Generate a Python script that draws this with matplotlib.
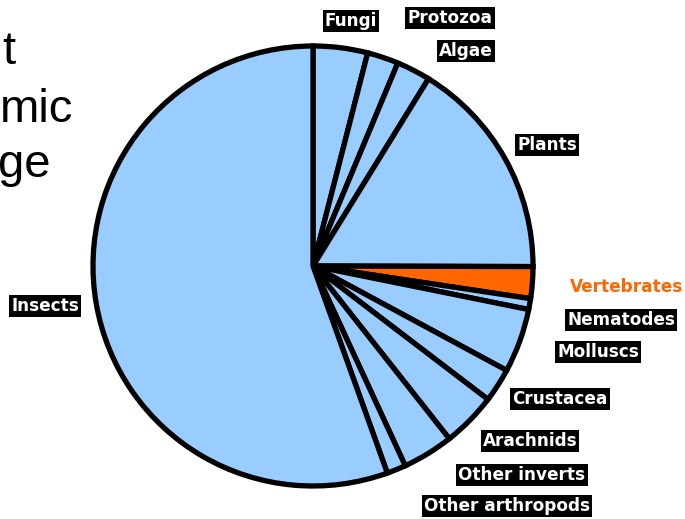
import matplotlib
matplotlib.use("Agg")
import matplotlib.pyplot as plt

# Share of described species by group (percent), clockwise from 12 o'clock
groups = ["Fungi", "Protozoa", "Algae", "Plants", "Vertebrates", "Nematodes",
          "Molluscs", "Crustacea", "Arachnids", "Other inverts",
          "Other arthropods", "Insects"]
shares = [4.0, 2.3, 2.5, 16.25, 2.33, 0.8, 4.7, 2.5, 4.0, 3.75, 1.4, 55.5]
highlight = "Vertebrates"

W, H = 685, 519
fig = plt.figure(figsize=(W / 100, H / 100), dpi=100)
ax = fig.add_axes([0, 0, 1, 1])

blue = "#99CCFF"
orange = "#FF6600"
colors = [orange if g == highlight else blue for g in groups]

cx, cy, r = 313, H - 266, 220
ax.pie(shares, colors=colors, startangle=90, counterclock=False,
       center=(cx, cy), radius=r, frame=True,
       wedgeprops=dict(edgecolor="black", linewidth=3.8, joinstyle="miter"))

ax.set_xlim(0, W)
ax.set_ylim(0, H)
ax.set_aspect("equal")
ax.axis("off")

# label placement (pixel coordinates from top-left)
label_pos = {
    "Fungi": (351, 21), "Protozoa": (450, 18), "Algae": (466, 51),
    "Plants": (547, 145), "Vertebrates": (627, 287), "Nematodes": (621, 320),
    "Molluscs": (598, 352), "Crustacea": (560, 399), "Arachnids": (530, 441),
    "Other inverts": (522, 475), "Other arthropods": (507, 506),
    "Insects": (45, 306),
}
for g in groups:
    x, y = label_pos[g]
    if g == highlight:
        ax.text(x, H - y, g, ha="center", va="center", fontsize=12.2,
                fontweight="bold", color=orange, family="DejaVu Sans")
    else:
        ax.text(x, H - y, g, ha="center", va="center", fontsize=12.2,
                fontweight="bold", color="white", family="DejaVu Sans",
                bbox=dict(boxstyle="square,pad=0.12", facecolor="black",
                          edgecolor="none"))

# title fragments at the left edge
for txt, xr, yb in [("t", 15, 64), ("mic", 73, 122), ("ge", 51, 177)]:
    ax.text(xr, H - yb, txt, ha="right", va="baseline", fontsize=34,
            family="Liberation Sans", color="black")

fig.savefig("out.png", dpi=100)
